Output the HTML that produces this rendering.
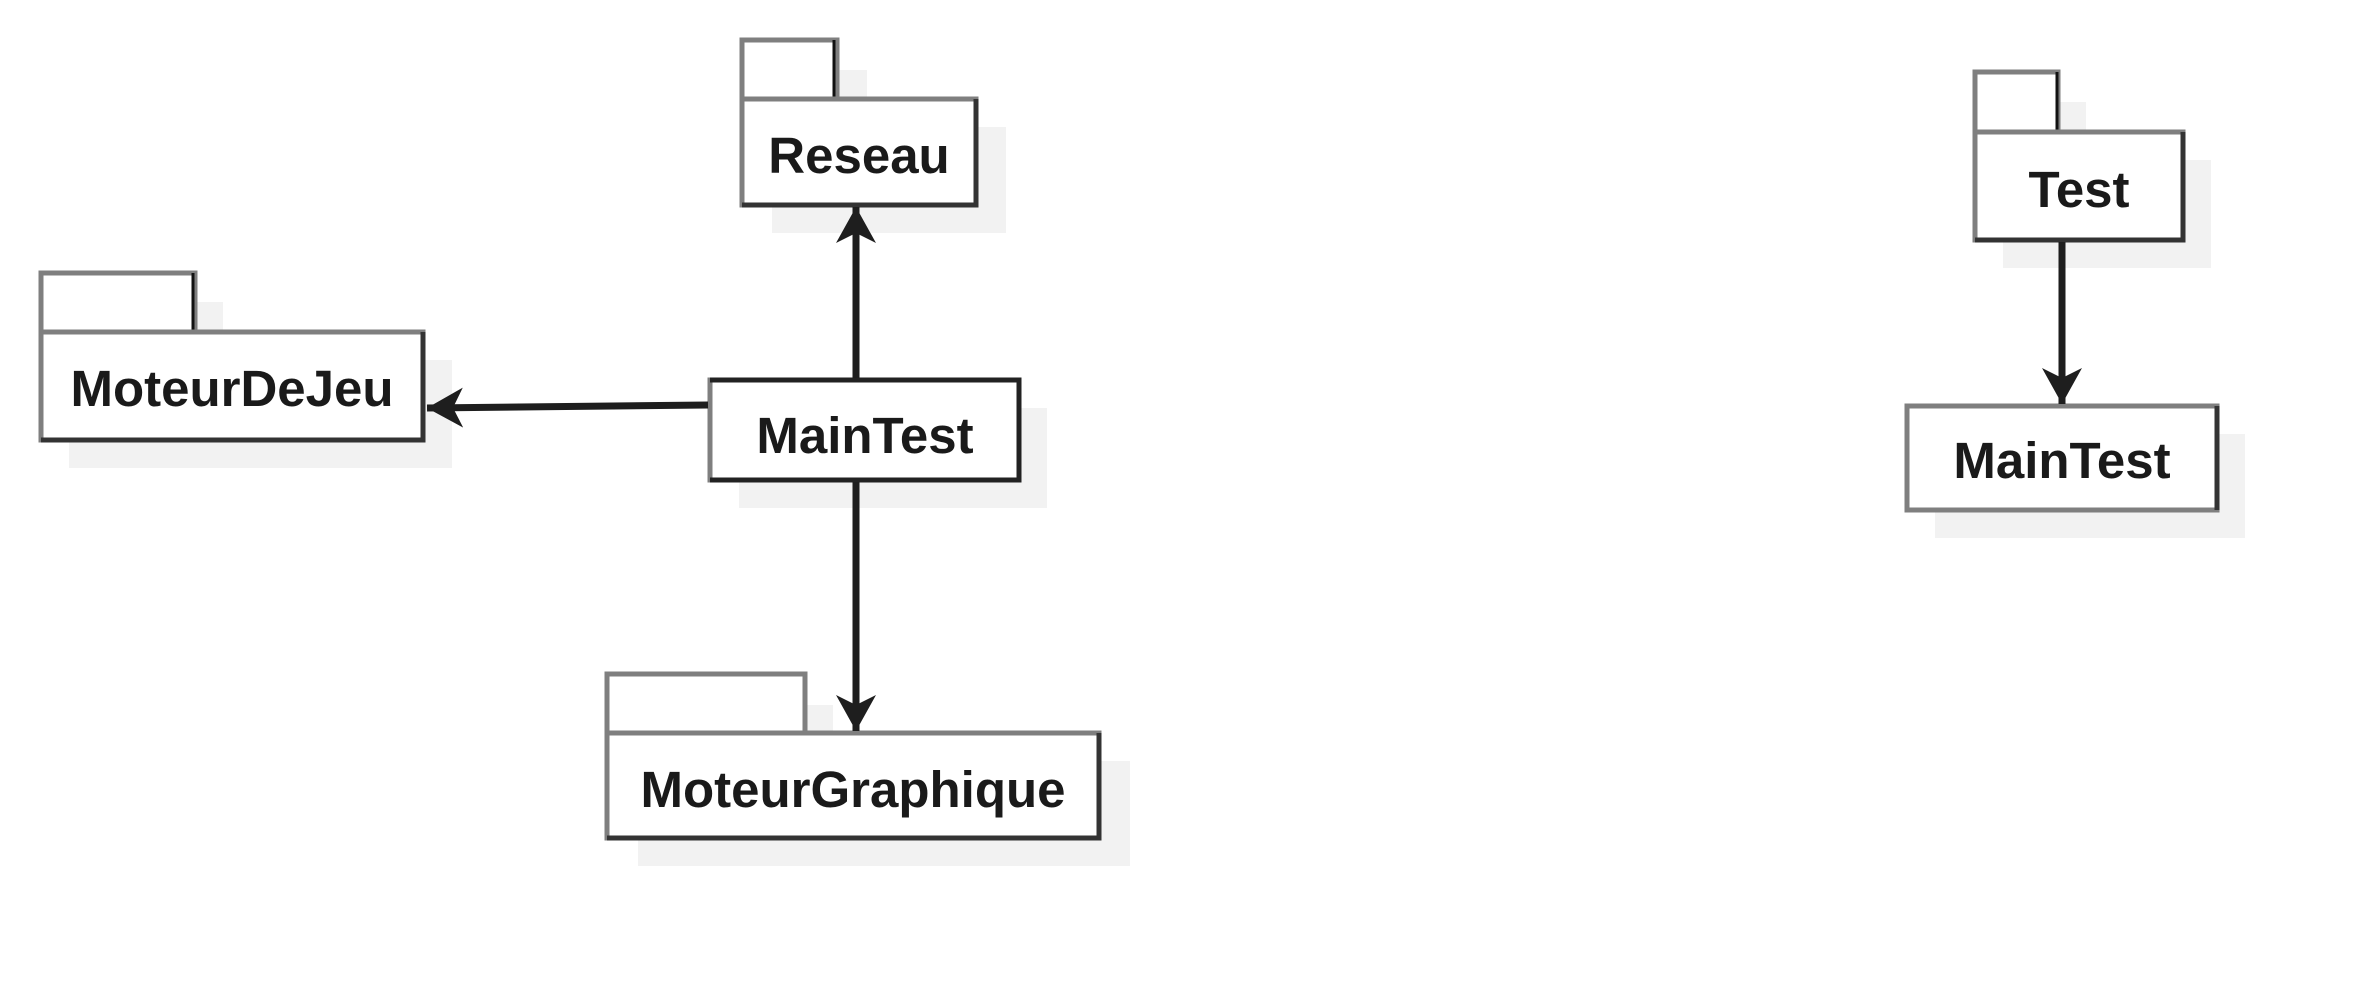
<!DOCTYPE html>
<html><head><meta charset="utf-8"><style>
html,body{margin:0;padding:0;background:#fff;}
svg{display:block;}
text{font-family:"Liberation Sans",sans-serif;font-weight:bold;font-size:51px;fill:#1a1a1a;text-anchor:middle;}
</style></head><body>
<svg width="2379" height="1004" viewBox="0 0 2379 1004" xmlns="http://www.w3.org/2000/svg">
<defs>
<marker id="ah" viewBox="0 0 36 40" refX="36" refY="20" markerWidth="36" markerHeight="40" markerUnits="userSpaceOnUse" orient="auto">
<path d="M36,20 L0,0 L10,20 L0,40 Z" fill="#1e1e1e"/>
</marker>
</defs>
<!-- shadows -->
<g fill="#f2f2f2">
<rect x="772" y="70" width="95" height="60"/><rect x="772" y="127" width="234" height="106"/>
<rect x="69" y="302" width="154" height="60"/><rect x="69" y="360" width="383" height="108"/>
<rect x="739" y="408" width="308" height="100"/>
<rect x="635" y="705" width="198" height="60"/><rect x="638" y="761" width="492" height="105"/>
<rect x="2003" y="102" width="83" height="60"/><rect x="2003" y="160" width="208" height="108"/>
<rect x="1935" y="434" width="310" height="104"/>
</g>
<!-- Reseau -->
<g>
<rect x="742" y="40" width="95" height="60" fill="#fff" stroke="#7f7f7f" stroke-width="5"/>
<line x1="834" y1="40" x2="834" y2="99" stroke="#111" stroke-width="3"/>
<rect x="742" y="99" width="234" height="106" fill="#fff" stroke="#7f7f7f" stroke-width="5"/>
<path d="M976,99 V205 H742" fill="none" stroke="#333" stroke-width="5"/>
<text x="859" y="173">Reseau</text>
</g>
<!-- MoteurDeJeu -->
<g>
<rect x="41" y="273" width="154" height="60" fill="#fff" stroke="#7f7f7f" stroke-width="5"/>
<line x1="193" y1="273" x2="193" y2="332" stroke="#111" stroke-width="3"/>
<rect x="41" y="332" width="382" height="108" fill="#fff" stroke="#7f7f7f" stroke-width="5"/>
<path d="M423,332 V440 H41" fill="none" stroke="#333" stroke-width="5"/>
<text x="232" y="406">MoteurDeJeu</text>
</g>
<!-- MainTest -->
<g>
<rect x="710" y="380" width="309" height="100" fill="#fff" stroke="#7f7f7f" stroke-width="5"/>
<path d="M710,380 H1019 V480 H710" fill="none" stroke="#222" stroke-width="5"/>
<text x="865" y="453">MainTest</text>
</g>
<!-- MoteurGraphique -->
<g>
<rect x="607" y="674" width="198" height="60" fill="#fff" stroke="#7f7f7f" stroke-width="5"/>
<rect x="607" y="733" width="492" height="105" fill="#fff" stroke="#7f7f7f" stroke-width="5"/>
<path d="M1099,733 V838 H607" fill="none" stroke="#333" stroke-width="5"/>
<text x="853" y="807">MoteurGraphique</text>
</g>
<!-- Test -->
<g>
<rect x="1975" y="72" width="83" height="60" fill="#fff" stroke="#7f7f7f" stroke-width="5"/>
<line x1="2057" y1="72" x2="2057" y2="132" stroke="#111" stroke-width="3"/>
<rect x="1975" y="132" width="208" height="108" fill="#fff" stroke="#7f7f7f" stroke-width="5"/>
<path d="M2183,132 V240 H1975" fill="none" stroke="#333" stroke-width="5"/>
<text x="2079" y="207">Test</text>
</g>
<!-- MainTest 2 -->
<g>
<rect x="1907" y="406" width="310" height="104" fill="#fff" stroke="#7f7f7f" stroke-width="5"/>
<line x1="2217" y1="406" x2="2217" y2="510" stroke="#333" stroke-width="5"/>
<text x="2062" y="478">MainTest</text>
</g>
<!-- connectors -->
<g stroke="#1e1e1e" stroke-width="7" fill="none">
<line x1="856" y1="378" x2="856" y2="207" marker-end="url(#ah)"/>
<line x1="708" y1="405" x2="427" y2="408" marker-end="url(#ah)"/>
<line x1="856" y1="482" x2="856" y2="731" marker-end="url(#ah)"/>
<line x1="2062" y1="242" x2="2062" y2="404" marker-end="url(#ah)"/>
</g>
</svg>
</body></html>
